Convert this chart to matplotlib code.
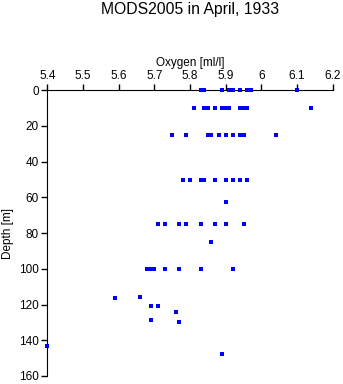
import matplotlib
matplotlib.use("Agg")
import matplotlib.pyplot as plt

plt.rcParams["font.family"] = ["Liberation Sans", "DejaVu Sans"]

# oxygen [ml/l] and depth [m]
oxygen = [5.83, 5.84, 5.89, 5.91, 5.92, 5.94, 5.96, 5.97, 6.10,
          5.81, 5.84, 5.85, 5.87, 5.89, 5.90, 5.91, 5.94, 5.95, 5.96, 6.14,
          5.75, 5.79, 5.85, 5.86, 5.88, 5.90, 5.92, 5.94, 5.95, 6.04,
          5.78, 5.80, 5.83, 5.84, 5.87, 5.90, 5.92, 5.94, 5.96,
          5.90,
          5.71, 5.73, 5.77, 5.79, 5.83, 5.87, 5.90, 5.95,
          5.86,
          5.68, 5.69, 5.70, 5.73, 5.77, 5.83, 5.92,
          5.66, 5.59, 5.69, 5.71, 5.76, 5.69, 5.77, 5.40, 5.89]
depth = [0, 0, 0, 0, 0, 0, 0, 0, 0,
         10, 10, 10, 10, 10, 10, 10, 10, 10, 10, 10,
         25, 25, 25, 25, 25, 25, 25, 25, 25, 25,
         50, 50, 50, 50, 50, 50, 50, 50, 50,
         62.5,
         75, 75, 75, 75, 75, 75, 75, 75,
         85,
         100, 100, 100, 100, 100, 100, 100,
         116, 116.5, 121, 121, 124, 128.5, 130, 143, 147.5]

fig = plt.figure(figsize=(3.43, 3.84), dpi=100)
ax = fig.add_axes([0.138, 0.021, 0.832, 0.744])

ax.plot(oxygen, depth, "s", color="#0000ff", markersize=2.2, markeredgewidth=0,
        zorder=3, clip_on=False)

ax.set_xlim(5.4, 6.2)
ax.set_ylim(160, 0)
ax.set_xticks([5.4, 5.5, 5.6, 5.7, 5.8, 5.9, 6.0, 6.1, 6.2])
ax.set_xticklabels(["5.4", "5.5", "5.6", "5.7", "5.8", "5.9", "6", "6.1", "6.2"])
ax.set_yticks(range(0, 161, 20))

ax.xaxis.tick_top()
ax.xaxis.set_label_position("top")
ax.spines["right"].set_visible(False)
ax.spines["bottom"].set_visible(False)
ax.tick_params(labelsize=8.5, length=4, width=1, pad=2)
ax.set_xlabel("Oxygen [ml/l]", fontsize=8.5, labelpad=3)
ax.set_ylabel("Depth [m]", fontsize=8.5, labelpad=4)

fig.text(0.553, 0.975, "MODS2005 in April, 1933", ha="center", va="center", fontsize=11.3)

fig.savefig("out.png", dpi=100)
